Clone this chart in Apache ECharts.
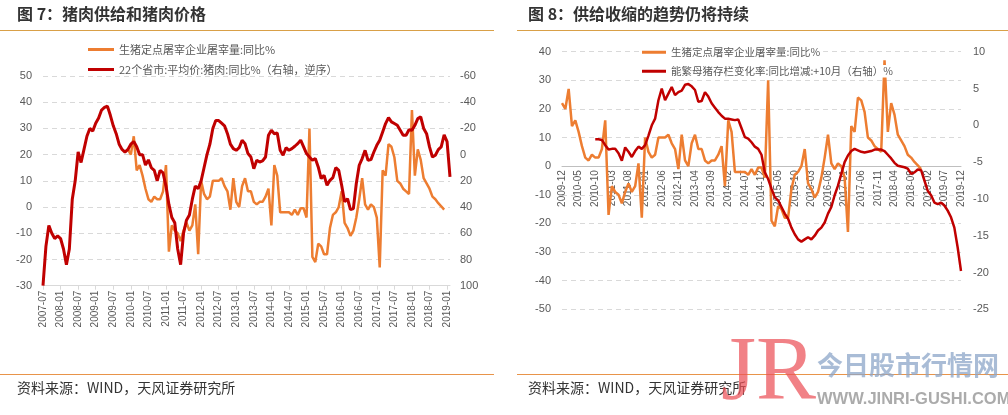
<!DOCTYPE html>
<html><head><meta charset="utf-8">
<script src="https://cdn.jsdelivr.net/npm/echarts@6/dist/echarts.min.js"></script>
<style>html,body{margin:0;padding:0;background:#fff}#c{width:1008px;height:415px}</style>
</head><body><div id="c"></div>
<script>
const FONT = '"Noto Sans CJK SC", "Liberation Sans", sans-serif';

function monthRange(y0, m0, y1, m1) {
  const out = [];
  let y = y0, m = m0;
  while (y < y1 || (y === y1 && m <= m1)) {
    out.push(y + '-' + (m < 10 ? '0' + m : '' + m));
    m++; if (m > 12) { m = 1; y++; }
  }
  return out;
}

// Categories
const chart1Months = monthRange(2007, 7, 2019, 2);   // 140 months
const chart2Months = monthRange(2009, 12, 2019, 12); // 121 months

// 生猪定点屠宰企业屠宰量:同比% , 2009-12 .. 2018-12
const slaughterYoY = [
  22, 20, 27, 14, 16, 12, 7, 3, 2, 4,
  3, 3, 6, 16, -17, -7, -9, -10, -13, -9,
  -6, -9, -7, 1, -18, 10, 5, 3, 4, 10,
  10, 10, 11, 8, 6, -1, 11, 2, 0, 8,
  11, 6, 6, 2, 1, 2, 2, 4, 7, -7,
  16, 12, -2, -2, -2, -2, -3, -1, -3, -0.5,
  -0.5, -4, 30, -19, -21, -14, -15, -18, -18, -8,
  -3, -2, 0, 6, -6, -8, -11, -9, -4, 3,
  11, 1, -1, 1, 0, -4, -23, 14, 12, 24,
  23, 19, 10, 9, 7, 6, 5, 37, 12, 22,
  18, 11, 9, 7, 4, 3, 1.5, 0.3, -1
];
const slaughterStart = '2009-12';

// 22个省市:平均价:猪肉:同比% (right axis, inverted), 2007-07 .. 2019-02
const porkPriceYoY = [
  100, 70, 54, 60, 64, 62, 64, 72, 84, 72,
  34, 20, -2, 6, -4, -14, -20, -18, -24, -28,
  -34, -36, -37, -30, -22, -16, -8, -4, -2, -4,
  -8, -10, -6, 0, 0, 8, 4, 10, 12, 20,
  12, 14, 24, 38, 48, 52, 72, 84, 60, 50,
  46, 34, 24, 26, 20, 10, 0, -8, -20, -26,
  -26, -24, -22, -16, -8, -4.6, -3.3, -5.3, -11, -8.4,
  -0.8, 1.8, 10.7, 4.3, 5.6, 4.8, 1.8, -14.8, -18.6, -16,
  -16.5, -3.3, 0.5, -5.3, -3.3, -4.6, -6.4, -8.4, -11, -5.9,
  -0.8, 1.8, 4.3, 3, 9.4, 18.3, 15.8, 23.4, 19.6, 17.6,
  9.9, 12, 23.4, 36, 33.6, 42, 41.2, 22, 8.1, 3,
  -3.3, 4.3, 3.8, -2, -7.1, -11, -17.3, -23.7, -28.2, -25,
  -23.7, -22.4, -18.6, -14.8, -14.8, -19, -18.6, -22.4, -27.5, -28.8,
  -20, -16, -5.9, 1.8, 0.5, -3.8, -5.9, -15, -10, 17
];

// 能繁母猪存栏变化率:同比增减:+10月（右轴）% , 2010-10 .. 2019-12
const sowStockChange = [
  -1.9, -1.9, -2, -2.7, -3.3, -3.2, -3.2, -3.8, -4.8, -3,
  -3.6, -4.3, -3.5, -2.9, -3.2, -2.7, -1.4, 0, 0.9, 3.4,
  5, 3.4, 4.3, 5.2, 4.1, 4.5, 4.7, 5.5, 5.6, 5.3,
  4.8, 3.2, 3.3, 4.5, 3.9, 3, 2.4, 1.8, 1.3, 0.9,
  0.9, 0.8, 0.7, 0.8, -0.4, -1.6, -1.8, -2.3, -2.9, -3.2,
  -4, -6.4, -7.3, -8.6, -9.8, -10.2, -11.1, -12, -12.7, -13.9,
  -14.8, -15.5, -15.8, -15.5, -15.2, -15.5, -15, -14.3, -13.9, -13.2,
  -12, -11.1, -9.5, -8.2, -6.6, -5, -4.1, -3.5, -3.2, -3.4,
  -3.6, -3.7, -3.6, -3.5, -3.3, -3.3, -3.3, -3.5, -4, -4.5,
  -5.1, -5.5, -5.6, -5.7, -5.9, -6.6, -6.4, -6, -6.1, -7.5,
  -8.9, -9.5, -10.5, -10.7, -10.5, -10.9, -11.6, -12.5, -13.9, -16.6,
  -19.8
];
const sowStart = '2010-10';

// Axis tick settings
const c1Left = { min: -30, max: 50, interval: 10 };
const c1Right = { min: -60, max: 100, interval: 20 };
const c2Left = { min: -50, max: 40, interval: 10 };
const c2Right = { min: -25, max: 10, interval: 5 };

const nameSlaughter = '生猪定点屠宰企业屠宰量:同比%';
const namePork = '22个省市:平均价:猪肉:同比%（右轴，逆序）';
const nameSow = '能繁母猪存栏变化率:同比增减:+10月（右轴）%';

function alignTo(cats, start, values) {
  const i0 = cats.indexOf(start);
  return cats.map((c, i) => {
    const k = i - i0;
    return (k >= 0 && k < values.length) ? values[k] : null;
  });
}

const ORANGE = '#ED7D31';
const RED = '#C00000';
const LABEL = '#595959';
const GRIDC = '#d9d9d9';
const NUMFONT = '"Liberation Sans", sans-serif';

const chart = echarts.init(document.getElementById('c'), null, { renderer: 'canvas' });

const baseLegend = {
  orient: 'horizontal', icon: 'rect', itemHeight: 3, itemGap: 0,
  padding: 0, selectedMode: false,
  textStyle: { fontFamily: FONT, color: LABEL, fontSize: 11 }
};

// plot geometry of chart 2: y of the zero line, used for a label-only axis strip
const c2Top = 51.7, c2Bottom = 309.3;
const c2ZeroY = c2Top + (c2Left.max - 0) / (c2Left.max - c2Left.min) * (c2Bottom - c2Top);

const option = {
  animation: false,
  backgroundColor: '#fff',
  textStyle: { fontFamily: FONT },
  grid: [
    { left: 43, right: 1008 - 450, top: 76, bottom: 415 - 285.7 },
    { left: 562, right: 1008 - 961, top: c2Top, bottom: 415 - c2Bottom },
    { left: 562, right: 1008 - 961, top: c2Top, bottom: 415 - c2ZeroY }
  ],
  legend: [
    Object.assign({}, baseLegend, { data: [nameSlaughter], left: 88, top: 44, itemWidth: 26 }),
    Object.assign({}, baseLegend, { data: [namePork], left: 88, top: 64, itemWidth: 26 }),
    Object.assign({}, baseLegend, { data: [nameSlaughter], left: 640, top: 46, itemWidth: 24,
      backgroundColor: '#fff', padding: [1, 3, 1, 2],
      textStyle: { fontFamily: FONT, color: LABEL, fontSize: 10.5 } }),
    Object.assign({}, baseLegend, { data: [nameSow], left: 640, top: 65, itemWidth: 24,
      backgroundColor: '#fff', padding: [1, 3, 1, 2],
      textStyle: { fontFamily: FONT, color: LABEL, fontSize: 10.5 } })
  ],
  xAxis: [
    {
      type: 'category', gridIndex: 0, data: chart1Months, boundaryGap: false,
      axisLine: { show: true, onZero: false, lineStyle: { color: GRIDC, width: 1 } },
      axisTick: { show: true, interval: 5, length: 4, lineStyle: { color: GRIDC } },
      axisLabel: { interval: 5, rotate: 90, fontSize: 10, color: LABEL, margin: 5, fontFamily: NUMFONT },
      splitLine: { show: false }
    },
    {
      type: 'category', gridIndex: 1, data: chart2Months, boundaryGap: false,
      axisLine: { show: false },
      axisTick: { show: false },
      axisLabel: { show: false },
      splitLine: { show: false }
    },
    {
      type: 'category', gridIndex: 2, data: chart2Months, boundaryGap: false,
      axisLine: { show: true, onZero: false, lineStyle: { color: '#bfbfbf', width: 1 } },
      axisTick: { show: false },
      axisLabel: { interval: 4, rotate: 90, fontSize: 10, color: LABEL, margin: 4, fontFamily: NUMFONT },
      splitLine: { show: false }
    }
  ],
  yAxis: [
    Object.assign({ type: 'value', gridIndex: 0, position: 'left',
      axisLine: { show: false }, axisTick: { show: false },
      axisLabel: { color: LABEL, fontSize: 11, margin: 11, fontFamily: NUMFONT },
      splitLine: { show: true, lineStyle: { color: GRIDC, type: [5, 4], width: 1 } } }, c1Left),
    Object.assign({ type: 'value', gridIndex: 0, position: 'right', inverse: true,
      axisLine: { show: false }, axisTick: { show: false },
      axisLabel: { color: LABEL, fontSize: 11, margin: 10, fontFamily: NUMFONT },
      splitLine: { show: false } }, c1Right),
    Object.assign({ type: 'value', gridIndex: 1, position: 'left',
      axisLine: { show: false }, axisTick: { show: false },
      axisLabel: { color: LABEL, fontSize: 11, margin: 11, fontFamily: NUMFONT },
      splitLine: { show: true, lineStyle: { color: GRIDC, type: [5, 4], width: 1 } } }, c2Left),
    Object.assign({ type: 'value', gridIndex: 1, position: 'right',
      axisLine: { show: false }, axisTick: { show: false },
      axisLabel: { color: LABEL, fontSize: 11, margin: 12, fontFamily: NUMFONT },
      splitLine: { show: false } }, c2Right),
    { type: 'value', gridIndex: 2, show: false, min: 0, max: c2Left.max, interval: 10 }
  ],
  series: [
    { type: 'line', name: nameSlaughter, xAxisIndex: 0, yAxisIndex: 0,
      data: alignTo(chart1Months, slaughterStart, slaughterYoY),
      showSymbol: false, symbol: 'none', color: ORANGE, lineStyle: { width: 2.5, color: ORANGE } },
    { type: 'line', name: namePork, xAxisIndex: 0, yAxisIndex: 1,
      data: alignTo(chart1Months, '2007-07', porkPriceYoY),
      showSymbol: false, symbol: 'none', color: RED, lineStyle: { width: 3, color: RED } },
    { type: 'line', name: nameSlaughter, xAxisIndex: 1, yAxisIndex: 2,
      data: alignTo(chart2Months, slaughterStart, slaughterYoY),
      showSymbol: false, symbol: 'none', color: ORANGE, lineStyle: { width: 2.5, color: ORANGE } },
    { type: 'line', name: nameSow, xAxisIndex: 1, yAxisIndex: 3,
      data: alignTo(chart2Months, sowStart, sowStockChange),
      showSymbol: false, symbol: 'none', color: RED, lineStyle: { width: 2.5, color: RED } }
  ],
  graphic: [
    { type: 'text', left: 17, top: 6, style: { text: '图 7：猪肉供给和猪肉价格', font: 'bold 16px ' + FONT, fill: '#333' } },
    { type: 'text', left: 528, top: 6, style: { text: '图 8：供给收缩的趋势仍将持续', font: 'bold 16px ' + FONT, fill: '#333' } },
    { type: 'line', shape: { x1: 0, y1: 30.5, x2: 494, y2: 30.5 }, style: { stroke: '#D9A048', lineWidth: 1 } },
    { type: 'line', shape: { x1: 517, y1: 30.5, x2: 1008, y2: 30.5 }, style: { stroke: '#D9A048', lineWidth: 1 } },
    { type: 'line', shape: { x1: 0, y1: 374.5, x2: 494, y2: 374.5 }, style: { stroke: '#E8944A', lineWidth: 1 } },
    { type: 'line', shape: { x1: 517, y1: 374.5, x2: 1008, y2: 374.5 }, style: { stroke: '#E8944A', lineWidth: 1 } },
    { type: 'text', left: 17, top: 381, style: { text: '资料来源：WIND，天风证券研究所', font: '14px ' + FONT, fill: '#333' } },
    { type: 'text', left: 528, top: 381, style: { text: '资料来源：WIND，天风证券研究所', font: '14px ' + FONT, fill: '#333' } },
    { type: 'text', left: 721, top: 330, z: 100, style: { text: 'JR', font: '90px "Liberation Serif", serif', fill: 'rgba(235,80,88,0.72)' } },
    { type: 'text', left: 817, top: 352, z: 100, style: { text: '今日股市行情网', font: 'bold 26px ' + FONT, fill: 'rgba(140,165,200,0.75)' } },
    { type: 'text', left: 817, top: 391, z: 100, style: { text: 'WWW.JINRI-GUSHI.COM', font: 'bold 16.5px "Liberation Sans", sans-serif', fill: 'rgba(150,150,150,0.8)' } }
  ]
};
chart.setOption(option);
</script>
</body></html>
